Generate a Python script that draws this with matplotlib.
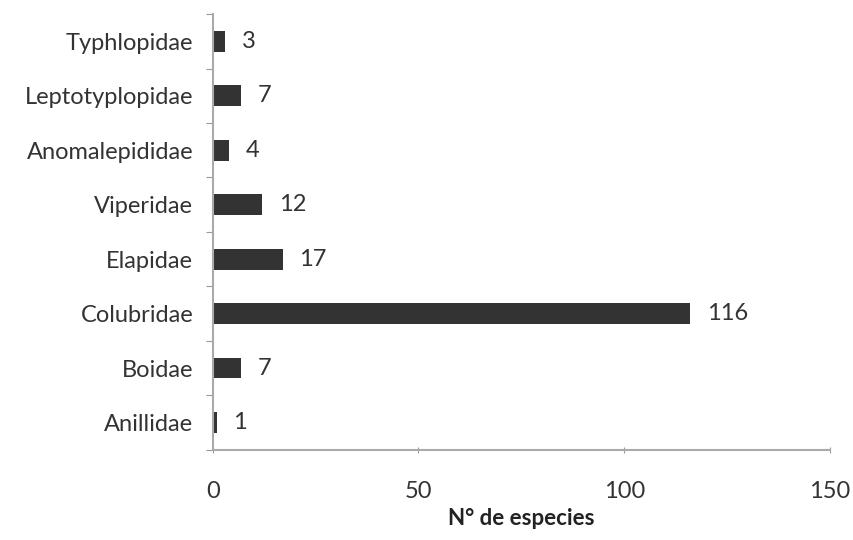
import matplotlib.pyplot as plt
import numpy as np

# Data
familias = ['Anillidae', 'Boidae', 'Colubridae', 'Elapidae',
            'Viperidae', 'Anomalepididae', 'Leptotyplopidae', 'Typhlopidae']
especies = [1, 7, 116, 17, 12, 4, 7, 3]
x_ticks = [0, 50, 100, 150]

plt.rcParams['font.family'] = ['Lato', 'DejaVu Sans']
FS = 17

fig = plt.figure(figsize=(8.54, 5.4), dpi=100)
ax = fig.add_axes([0.249, 0.167, 0.723, 0.807])

pos = np.arange(len(familias))
ax.barh(pos, especies, height=0.38, color='#333333')

# value labels to the right of each bar
for p, v in zip(pos, especies):
    ax.annotate(str(v), (v, p), xytext=(12, 0), textcoords='offset points',
                va='center', ha='left', fontsize=FS, color='#333333')

ax.set_xlim(0, 150)
ax.set_ylim(-0.5, len(familias) - 0.5)
ax.set_xticks(x_ticks)
ax.set_xticklabels([str(t) for t in x_ticks], fontsize=FS, color='#333333')

# category labels at centers, tick marks at boundaries
ax.set_yticks(np.arange(-0.5, len(familias)), minor=False)
ax.set_yticklabels([])
ax.set_yticks(pos, minor=True)
ax.set_yticklabels(familias, minor=True, fontsize=FS, color='#333333')
ax.tick_params(axis='y', which='minor', length=0, pad=14)
ax.tick_params(axis='y', which='major', length=5, color='#999999', direction='out')
ax.tick_params(axis='x', length=5, color='#999999', direction='inout', pad=20)

for s in ['top', 'right']:
    ax.spines[s].set_visible(False)
for s in ['left', 'bottom']:
    ax.spines[s].set_color('#aaaaaa')
    ax.spines[s].set_linewidth(1.5)

ax.set_xlabel('N° de especies', fontsize=FS - 1, fontweight='bold', color='#222222', labelpad=4)

fig.savefig('out.png', dpi=100, facecolor='white')
